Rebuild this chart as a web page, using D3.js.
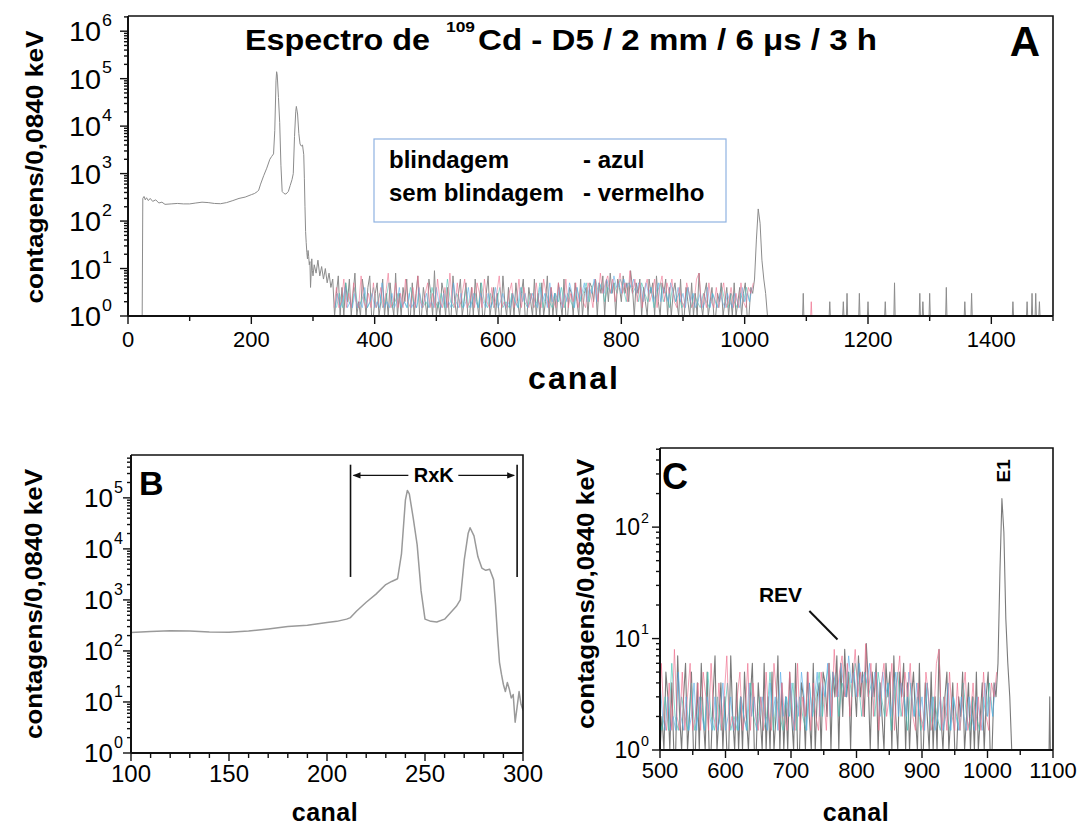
<!DOCTYPE html>
<html lang="pt">
<head>
<meta charset="UTF-8">
<title>Espectro de 109Cd</title>
<style>
  body { margin: 0; background: #fff; }
  svg { display: block; font-family: "Liberation Sans", Arial, sans-serif; }
  .frame { fill: none; stroke: #111; stroke-width: 1.6; }
  .axis-line { stroke: #111; stroke-width: 2; }
  .tick { stroke: #111; stroke-width: 1.4; }
  .spec { fill: none; stroke-linejoin: round; }
  .bold { font-weight: bold; }
</style>
</head>
<body>
<script src="https://cdn.jsdelivr.net/npm/d3@7"></script>
<script>
// ---- data ----
// main spectrum, low channels (peaks of the RxK region)
const specChannels = [20, 23, 24, 26, 28, 30, 33, 36, 40, 45, 50, 55, 60, 70, 80, 90, 100, 110, 120, 130,
  140, 150, 160, 170, 180, 190, 200, 205, 210, 212, 215, 220, 225, 230, 233, 236, 238, 240, 241, 242,
  244, 246, 248, 250, 253, 256, 260, 263, 266, 268, 270, 272, 273, 275, 277, 279, 281, 283, 285, 286,
  287, 288, 289, 290, 291, 292, 293, 294, 295, 296, 297, 298, 299, 300];
const specCounts = [1, 1, 300, 330, 280, 310, 270, 300, 260, 280, 240, 250, 225, 230, 235, 230, 230, 240, 250, 245,
  235, 232, 245, 270, 300, 320, 360, 380, 420, 450, 600, 900, 1300, 2000, 2300, 2600, 8000, 90000, 140000, 120000,
  40000, 12000, 1500, 420, 380, 370, 420, 560, 750, 1000, 6000, 20000, 26000, 18000, 7000, 4200, 3800, 4000, 2500, 800,
  200, 60, 35, 22, 16, 24, 18, 12, 14, 4, 8, 16, 9, 7];

// gray trace, channels 302..1040 every 3 channels (includes the E1 peak)
const grayStart = 302, grayStep = 3;
const grayNoise = [
  12, 8, 15, 7, 11, 6, 10, 5, 8, 4,
  6, 0, 3, 7, 1, 4, 0, 5, 2, 6,
  0, 3, 8, 1, 2, 0, 6, 3, 0, 4,
  7, 1, 0, 3, 5, 0, 2, 6, 1, 3,
  0, 5, 2, 0, 8, 1, 3, 0, 4, 2,
  6, 0, 1, 5, 0, 3, 7, 1, 0, 4,
  2, 0, 6, 3, 0, 9, 1, 2, 0, 5,
  3, 0, 4, 1, 0, 7, 2, 0, 3, 6,
  0, 2, 5, 0, 1, 4, 0, 6, 2, 0,
  5, 1, 0, 3, 7, 0, 2, 4, 0, 3,
  1, 0, 7, 2, 0, 4, 1, 3, 0, 5,
  2, 0, 3, 6, 1, 0, 4, 2, 0, 6,
  0, 3, 1, 5, 0, 2, 7, 0, 4, 1,
  3, 0, 5, 2, 0, 6, 1, 0, 4, 3,
  0, 5, 2, 1, 6, 0, 3, 4, 0, 5,
  4, 2, 6, 0, 5, 3, 7, 1, 6, 2,
  8, 3, 5, 0, 6, 4, 2, 7, 3, 5,
  2, 9, 4, 0, 5, 3, 6, 1, 4, 2,
  0, 6, 3, 5, 1, 7, 2, 0, 5, 3,
  6, 1, 4, 0, 3, 5, 2, 0, 6, 1,
  0, 4, 2, 0, 5, 1, 3, 0, 8, 2,
  0, 3, 5, 0, 2, 4, 1, 0, 3, 2,
  5, 0, 2, 4, 0, 3, 1, 5, 0, 2,
  4, 0, 3, 5, 1, 0, 4, 3, 6, 40,
  180, 90, 15, 6, 3, 1, 0];

// isolated counts above channel 1040
const tailChannels = [1095, 1138, 1160, 1166, 1186, 1200, 1228, 1243, 1284, 1289, 1300, 1327, 1357, 1368, 1435, 1458, 1466, 1472, 1478];
const tailCounts = [3, 2, 2, 3, 3, 2, 2, 5, 3, 2, 3, 4, 2, 3, 2, 2, 3, 3, 2];

// sem blindagem (red), every 4 channels from 334
const redStart = 334, redStep = 4;
const redNoise = [
  1.5, 4, 1.5, 2, 6, 1.5, 3, 1.5, 5, 2,
  1.5, 7, 2, 1.5, 3, 1.5, 5, 1.5, 2, 4,
  1.5, 3, 8, 1.5, 2, 5, 1.5, 3, 1.5, 6,
  2, 1.5, 4, 1.5, 7, 2, 1.5, 3, 5, 1.5,
  3, 1.5, 6, 2, 1.5, 4, 1.5, 8, 2, 1.5,
  5, 1.5, 3, 6, 1.5, 2, 4, 1.5, 5, 3,
  1.5, 6, 2, 1.5, 4, 1.5, 3, 7, 1.5, 2,
  1.5, 3, 5, 1.5, 2, 6, 1.5, 4, 2, 1.5,
  3, 1.5, 5, 2, 1.5, 6, 3, 1.5, 4, 2,
  1.5, 5, 2, 1.5, 6, 1.5, 3, 2, 5, 1.5,
  4, 2, 1.5, 5, 3, 1.5, 6, 2, 8, 3,
  5, 7, 3, 6, 2, 4, 8, 3, 5, 2,
  9, 3, 6, 2, 5, 1.5, 4, 6, 2, 3,
  6, 1.5, 4, 7, 2, 5, 3, 6, 2, 1.5,
  4, 2, 1.5, 5, 3, 1.5, 2, 6, 8, 1.5,
  3, 1.5, 5, 2, 1.5, 4, 1.5, 3, 5, 1.5,
  2, 4, 1.5, 3, 1.5, 5, 2, 1.5, 4, 3,
  5];
const redTailChannels = [1108];
const redTailCounts = [2];

// blindagem (blue), every 4 channels from 336
const blueStart = 336, blueStep = 4;
const blueNoise = [
  1.5, 3, 1.5, 2, 4, 1.5, 2, 1.5, 3, 1.5,
  2, 1.5, 4, 1.5, 2, 3, 1.5, 2, 1.5, 5,
  1.5, 2, 1.5, 3, 1.5, 2, 4, 1.5, 2, 1.5,
  3, 1.5, 2, 1.5, 4, 1.5, 2, 3, 1.5, 2,
  1.5, 4, 2, 1.5, 3, 1.5, 2, 1.5, 5, 2,
  1.5, 3, 1.5, 2, 4, 1.5, 3, 2, 1.5, 3,
  2, 1.5, 3, 1.5, 2, 4, 1.5, 2, 3, 1.5,
  2, 1.5, 3, 2, 1.5, 4, 2, 3, 1.5, 2,
  3, 2, 1.5, 4, 2, 3, 1.5, 5, 2, 3,
  2, 4, 1.5, 3, 2, 5, 3, 1.5, 4, 2,
  3, 5, 2, 4, 3, 6, 2, 5, 4, 3,
  6, 4, 3, 7, 4, 5, 3, 6, 4, 5,
  4, 6, 3, 5, 4, 2, 5, 3, 4, 2,
  3, 5, 2, 4, 3, 2, 5, 3, 2, 4,
  2, 3, 1.5, 4, 2, 3, 1.5, 2, 3, 1.5,
  2, 4, 1.5, 3, 2, 1.5, 3, 2, 1.5, 3,
  2, 1.5, 3, 2, 1.5, 4, 2, 3, 2, 4];

// third trace (teal), every 5 channels from 338
const tealStart = 338, tealStep = 5;
const tealNoise = [
  1.5, 3, 1.5, 5, 2, 1.5, 4, 1.5, 2, 3,
  1.5, 2, 4, 1.5, 3, 1.5, 2, 5, 1.5, 2,
  3, 1.5, 2, 1.5, 4, 2, 1.5, 3, 1.5, 2,
  1.5, 4, 2, 1.5, 3, 1.5, 6, 2, 1.5, 3,
  2, 1.5, 4, 1.5, 2, 3, 1.5, 5, 2, 1.5,
  3, 1.5, 2, 4, 1.5, 2, 1.5, 3, 2, 1.5,
  4, 2, 1.5, 3, 1.5, 2, 5, 1.5, 3, 2,
  1.5, 3, 2, 4, 1.5, 3, 2, 1.5, 4, 2,
  3, 5, 2, 4, 6, 3, 5, 2, 4, 3,
  5, 3, 6, 4, 2, 5, 3, 4, 2, 5,
  3, 2, 4, 1.5, 3, 5, 2, 3, 1.5, 4,
  2, 3, 1.5, 2, 4, 1.5, 3, 2, 1.5, 3,
  2, 1.5, 3, 2, 1.5, 4, 2, 1.5, 3, 2,
  1.5, 3, 2, 4, 2];

// axis ticks
const aTicks = [0, 200, 400, 600, 800, 1000, 1200, 1400];
const aMinor = [100, 300, 500, 700, 900, 1100, 1300, 1500];
const bTicks = [100, 150, 200, 250, 300];
const bMinor = [110, 120, 130, 140, 160, 170, 180, 190, 210, 220, 230, 240, 260, 270, 280, 290];
const cTicks = [500, 600, 700, 800, 900, 1000, 1100];
const cMinor = [550, 650, 750, 850, 950, 1050];

// ---- build series ----
const stepSeries = (start, step, vals) => vals.map((v, i) => [start + i * step, v]);
function spikes(chs, cnts, from, to) {
  const pts = [[from, 0]];
  chs.forEach((c, i) => pts.push([c - 1, 0], [c, cnts[i]], [c + 1, 0]));
  pts.push([to, 0]);
  return pts;
}
const grayPts = specChannels.map((c, i) => [c, specCounts[i]])
  .concat(stepSeries(grayStart, grayStep, grayNoise))
  .concat(spikes(tailChannels, tailCounts, 1041, 1500));
const redPts = stepSeries(redStart, redStep, redNoise);
const redTail = spikes(redTailChannels, redTailCounts, 1100, 1116);
const bluePts = stepSeries(blueStart, blueStep, blueNoise);
const tealPts = stepSeries(tealStart, tealStep, tealNoise);

const svg = d3.select("body").append("svg").attr("width", 1085).attr("height", 828);

function panel(cfg) {
  const g = svg.append("g");
  const x = d3.scaleLinear().domain(cfg.xDomain).range([cfg.x0, cfg.x1]);
  const y = d3.scaleLog().domain([1, Math.pow(10, cfg.topExp)]).range([cfg.y0, cfg.y1]);
  const id = "clip" + cfg.name;
  svg.append("clipPath").attr("id", id).append("rect")
    .attr("x", cfg.x0).attr("y", cfg.y1).attr("width", cfg.x1 - cfg.x0).attr("height", cfg.y0 - cfg.y1);
  const line = d3.line().x(d => x(d[0])).y(d => y(Math.max(d[1], 1)));
  const plot = g.append("g").attr("clip-path", `url(#${id})`);
  const series = [
    [grayPts, cfg.gray, cfg.lw, 1],
    [tealPts, "#46c4b4", cfg.lw * 0.85, 0.7],
    [bluePts, "#5aaeea", cfg.lw * 0.85, 0.7],
    [redPts, "#ee6e8c", cfg.lw * 0.85, 0.7],
    [redTail, "#ee6e8c", cfg.lw * 0.85, 0.8]
  ];
  series.forEach(s => plot.append("path").datum(s[0]).attr("class", "spec")
    .attr("d", line).attr("stroke", s[1]).attr("stroke-width", s[2]).attr("stroke-opacity", s[3]));

  // frame
  g.append("path").attr("class", "frame")
    .attr("d", `M${cfg.x0},${cfg.y1}H${cfg.x1}V${cfg.y0}`);
  g.append("line").attr("class", "axis-line").attr("x1", cfg.x0).attr("x2", cfg.x1).attr("y1", cfg.y0).attr("y2", cfg.y0);
  g.append("line").attr("class", "axis-line").attr("x1", cfg.x0).attr("x2", cfg.x0).attr("y1", cfg.y1).attr("y2", cfg.y0);

  // x ticks
  cfg.ticks.forEach(t => {
    g.append("line").attr("class", "tick").attr("x1", x(t)).attr("x2", x(t)).attr("y1", cfg.y0).attr("y2", cfg.y0 + 8);
    g.append("text").attr("x", x(t)).attr("y", cfg.y0 + cfg.xLabOff).attr("text-anchor", "middle")
      .attr("font-size", cfg.xFs).text(t);
  });
  cfg.minor.forEach(t => {
    g.append("line").attr("class", "tick").attr("x1", x(t)).attr("x2", x(t)).attr("y1", cfg.y0).attr("y2", cfg.y0 + 5);
  });

  // y ticks, log decades
  for (let e = 0; e <= Math.floor(cfg.topExp); e++) {
    const v = Math.pow(10, e);
    const yy = y(v);
    g.append("line").attr("class", "tick").attr("x1", cfg.x0 - 8).attr("x2", cfg.x0).attr("y1", yy).attr("y2", yy);
    const lab = g.append("g").attr("transform", `translate(${cfg.labEnd},${yy + cfg.yFs * 0.36}) scale(${cfg.sx},1)`);
    lab.append("text").attr("text-anchor", "end").attr("font-size", cfg.yFs).text("10");
    lab.append("text").attr("x", 1).attr("y", -cfg.yFs * 0.55).attr("font-size", cfg.yFs * 0.62).text(e);
    for (let m = 2; m <= 9; m++) {
      if (m * v > Math.pow(10, cfg.topExp)) break;
      g.append("line").attr("class", "tick").attr("x1", cfg.x0 - 4).attr("x2", cfg.x0)
        .attr("y1", y(m * v)).attr("y2", y(m * v)).attr("stroke-width", 1);
    }
  }

  // axis titles
  g.append("text").attr("class", "bold").attr("text-anchor", "middle")
    .attr("transform", `translate(${cfg.yTitleX},${cfg.yTitleY}) rotate(-90)`)
    .attr("font-size", cfg.yTitleFs).attr("textLength", cfg.yTitleLen).attr("lengthAdjust", "spacingAndGlyphs")
    .text("contagens/0,0840 keV");
  g.append("text").attr("class", "bold").attr("text-anchor", "middle")
    .attr("x", cfg.xTitleX).attr("y", cfg.xTitleY).attr("font-size", cfg.xTitleFs)
    .attr("letter-spacing", cfg.xTitleLs).text("canal");
  return { g, x, y };
}

// ---- panel A ----
const A = panel({ name: "A", xDomain: [0, 1500], x0: 128, x1: 1053, y0: 316, y1: 16, topExp: 6.32,
  gray: "#8c8c8c", lw: 1, ticks: aTicks, minor: aMinor, xFs: 22, xLabOff: 31,
  yFs: 28, sx: 1.03, labEnd: 101,
  yTitleX: 43, yTitleY: 167, yTitleFs: 24, yTitleLen: 273,
  xTitleX: 574, xTitleY: 389, xTitleFs: 32, xTitleLs: 2 });

A.g.append("text").attr("class", "bold").attr("x", 245).attr("y", 50).attr("font-size", 30)
  .attr("textLength", 185).attr("lengthAdjust", "spacingAndGlyphs").text("Espectro de");
A.g.append("text").attr("class", "bold").attr("x", 446).attr("y", 32).attr("font-size", 15)
  .attr("textLength", 29).attr("lengthAdjust", "spacingAndGlyphs").text("109");
A.g.append("text").attr("class", "bold").attr("x", 478).attr("y", 50).attr("font-size", 30)
  .attr("textLength", 399).attr("lengthAdjust", "spacingAndGlyphs").text("Cd - D5 / 2 mm / 6 μs / 3 h");
A.g.append("text").attr("class", "bold").attr("x", 1040).attr("y", 56).attr("font-size", 42)
  .attr("text-anchor", "end").text("A");

// legend
A.g.append("rect").attr("x", 374).attr("y", 139).attr("width", 352).attr("height", 83)
  .attr("fill", "#fff").attr("stroke", "#8fb2e2").attr("stroke-width", 1.2);
const legendRows = [["blindagem", "- azul"], ["sem blindagem", "- vermelho"]];
legendRows.forEach((r, i) => {
  A.g.append("text").attr("class", "bold").attr("x", 389).attr("y", 168 + i * 33).attr("font-size", 24).text(r[0]);
  A.g.append("text").attr("class", "bold").attr("x", 583).attr("y", 168 + i * 33).attr("font-size", 24).text(r[1]);
});

// ---- panel B ----
const B = panel({ name: "B", xDomain: [100, 300], x0: 131, x1: 523, y0: 753, y1: 455, topExp: 5.84,
  gray: "#9a9a9a", lw: 1.5, ticks: bTicks, minor: bMinor, xFs: 24, xLabOff: 29,
  yFs: 26, sx: 1.0, labEnd: 113,
  yTitleX: 42, yTitleY: 604, yTitleFs: 23, yTitleLen: 270,
  xTitleX: 325, xTitleY: 821, xTitleFs: 25, xTitleLs: 0.5 });
B.g.append("text").attr("class", "bold").attr("x", 139).attr("y", 495).attr("font-size", 34).text("B");

// RxK bracket
const rxkLines = [212, 297];
const rxkTop = Math.pow(10, 5.65), rxkBottom = Math.pow(10, 3.45), rxkLevel = Math.pow(10, 5.44);
rxkLines.forEach(c => B.g.append("line").attr("x1", B.x(c)).attr("x2", B.x(c))
  .attr("y1", B.y(rxkTop)).attr("y2", B.y(rxkBottom)).attr("stroke", "#111").attr("stroke-width", 1.6));
svg.append("defs").append("marker").attr("id", "arr").attr("viewBox", "0 0 10 10")
  .attr("refX", 9).attr("refY", 5).attr("markerWidth", 7).attr("markerHeight", 6).attr("orient", "auto")
  .append("path").attr("d", "M0,1L10,5L0,9Z").attr("fill", "#111");
[[241.5, 213.5], [267, 295.5]].forEach(s => B.g.append("line")
  .attr("x1", B.x(s[0])).attr("x2", B.x(s[1])).attr("y1", B.y(rxkLevel)).attr("y2", B.y(rxkLevel))
  .attr("stroke", "#111").attr("stroke-width", 1.3).attr("marker-end", "url(#arr)"));
B.g.append("text").attr("class", "bold").attr("x", B.x(254.5)).attr("y", B.y(rxkLevel) + 7)
  .attr("text-anchor", "middle").attr("font-size", 20).text("RxK");

// ---- panel C ----
const C = panel({ name: "C", xDomain: [500, 1100], x0: 660, x1: 1053, y0: 750, y1: 448, topExp: 2.71,
  gray: "#7a7a7a", lw: 1.1, ticks: cTicks, minor: cMinor, xFs: 22, xLabOff: 28,
  yFs: 23, sx: 1.0, labEnd: 640,
  yTitleX: 594, yTitleY: 594, yTitleFs: 23, yTitleLen: 270,
  xTitleX: 856, xTitleY: 821, xTitleFs: 25, xTitleLs: 0.5 });
C.g.append("text").attr("class", "bold").attr("x", 662).attr("y", 489).attr("font-size", 36).text("C");
C.g.append("text").attr("class", "bold").attr("text-anchor", "middle").attr("font-size", 19)
  .attr("transform", `translate(${C.x(1024) + 7},${C.y(320)}) rotate(-90)`).text("E1");
C.g.append("text").attr("class", "bold").attr("text-anchor", "middle").attr("font-size", 21)
  .attr("x", C.x(684)).attr("y", C.y(25) + 8).text("REV");
C.g.append("line").attr("x1", C.x(728)).attr("y1", C.y(17.7)).attr("x2", C.x(771)).attr("y2", C.y(9.8))
  .attr("stroke", "#111").attr("stroke-width", 2);
</script>
</body>
</html>
